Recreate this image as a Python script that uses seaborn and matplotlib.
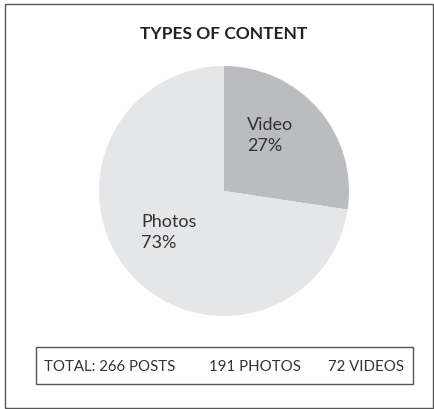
import matplotlib
matplotlib.use("Agg")
import matplotlib.pyplot as plt
import seaborn as sns
from matplotlib.patches import Rectangle

sns.set_theme(style="white")
plt.rcParams['font.family'] = ['Lato', 'DejaVu Sans']

categories = ["Video", "Photos"]
counts = [72, 191]
pct_labels = ["27%", "73%"]
colors = ["#bbbcbf", "#e5e6e8"]
title = "TYPES OF CONTENT"
summary = ["TOTAL: 266 POSTS", "191 PHOTOS", "72 VIDEOS"]

W, H = 435, 410
fig = plt.figure(figsize=(W / 100, H / 100), dpi=100)
fig.patch.set_facecolor("white")

# outer frame
fig.add_artist(Rectangle((5 / W, 1 / H), 428 / W, 404 / H, transform=fig.transFigure,
                         fill=False, edgecolor="#555555", linewidth=1.0))

fig.text(224 / W, 1 - 34 / H, title, ha="center", va="center",
         fontsize=12.5, fontweight="bold", color="#222222")

cx, cy, r = 224, 192, 125
ax = fig.add_axes([(cx - r) / W, (H - cy - r) / H, 2 * r / W, 2 * r / H])
ax.pie(counts, colors=colors, startangle=90, counterclock=False,
       wedgeprops=dict(linewidth=0))
ax.set_xlim(-1, 1)
ax.set_ylim(-1, 1)
ax.set_aspect("equal")
ax.axis("off")

label_pos = [(247, 117), (141, 214)]
for (lx, ly), cat, pct in zip(label_pos, categories, pct_labels):
    ax.text((lx - cx) / r, (cy - ly) / r, f"{cat}\n{pct}", ha="left", va="top",
            fontsize=13, color="#333333", linespacing=1.35)

# summary box
fig.add_artist(Rectangle((36 / W, 1 - 385 / H), 377 / W, 37 / H, transform=fig.transFigure,
                         fill=False, edgecolor="#555555", linewidth=1.0))
for x, s in zip([44, 209, 328], summary):
    fig.text(x / W, 1 - 367 / H, s, ha="left", va="center", fontsize=10.8, color="#333333")

fig.savefig("out.png", dpi=100, facecolor="white")
